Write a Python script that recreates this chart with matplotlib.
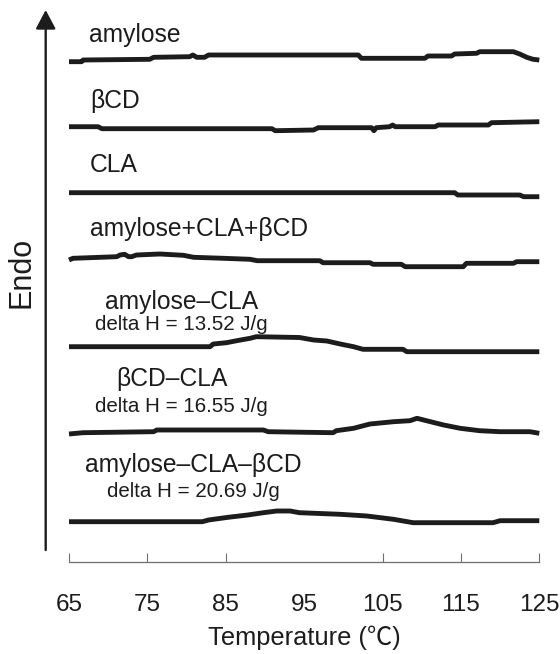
import matplotlib
matplotlib.use("Agg")
import matplotlib.pyplot as plt
from matplotlib.patches import FancyArrowPatch, ArrowStyle

plt.rcParams['font.family'] = ['Liberation Sans', 'Noto Sans CJK SC', 'DejaVu Sans']

# DSC traces, temperature in degC and endo signal (up = endo, arbitrary units)
t_amylose = [65.0, 66.6, 66.8, 75.3, 75.8, 80.4, 80.8, 81.3, 82.3, 82.8, 101.9, 102.3,
             110.4, 110.8, 113.8, 114.2, 117.0, 117.4, 121.7, 122.5, 123.4, 124.2, 125.0]
h_amylose = [0, 0, 1.7, 2.4, 4.4, 5.0, 6.7, 4.4, 4.4, 6.7, 6.7, 3.4,
             3.4, 5.7, 5.7, 7.7, 8.4, 10.0, 10.0, 7.7, 4.4, 2.4, 1.7]

t_bcd = [65.0, 68.7, 69.2, 90.9, 91.3, 96.2, 96.8, 103.6, 103.9, 104.2, 105.9, 106.3,
         106.6, 111.7, 112.1, 118.5, 118.9, 125.0]
h_bcd = [0, 0, -2, -2, -4, -3.3, -1, -1, -4, -1, 0, 1.7,
         0, 0, 1.7, 1.7, 4.0, 5.0]

t_cla = [65.0, 114.2, 114.6, 122.5, 123.0, 125.0]
h_cla = [0, 0, -2.3, -2.3, -4, -4]

t_mix = [65.0, 65.5, 71.1, 71.5, 72.1, 72.6, 73.0, 73.6, 76.6, 79.6, 80.9, 84.7, 88.1,
         89.0, 97.0, 97.4, 103.4, 103.8, 107.4, 107.9, 115.3, 115.7, 121.7, 122.1, 125.0]
h_mix = [0, 1.7, 3.3, 5.0, 5.7, 3.3, 3.3, 5.0, 6.0, 4.7, 2.7, 1.7, 0.7,
         -0.7, -0.7, -2.7, -2.7, -4.3, -4.3, -6.7, -6.7, -3.3, -3.3, -1.7, -1.7]

t_am_cla = [65.0, 83.0, 83.4, 85.1, 86.4, 88.1, 88.9, 94.4, 96.2, 97.9, 99.6, 101.3,
            102.5, 107.6, 108.1, 125.0]
h_am_cla = [0, 0, 2.7, 4.0, 6.0, 8.4, 10.0, 9.2, 6.7, 5.7, 2.7, 0,
            -2.6, -2.6, -5.0, -5.0]

t_bcd_cla = [65.0, 66.8, 75.8, 76.2, 89.8, 90.4, 94.4, 98.7, 99.1, 101.3, 103.4, 106.4,
             108.5, 109.4, 110.6, 112.8, 114.9, 117.4, 120.0, 123.8, 125.0]
h_bcd_cla = [0, 1.3, 2.3, 4.0, 4.0, 2.3, 1.8, 1.3, 3.3, 5.7, 10.0, 12.3,
             13.3, 15.7, 13.3, 9.0, 5.7, 3.3, 2.3, 2.3, 0.7]

t_am_cla_bcd = [65.0, 82.0, 82.8, 85.3, 87.8, 89.8, 91.5, 93.2, 94.4, 99.6, 103.0, 106.4,
                108.9, 119.1, 120.0, 125.0]
h_am_cla_bcd = [0, 0, 1.7, 4.4, 6.7, 9.0, 10.7, 10.7, 9.0, 7.4, 5.7, 2.4,
                -1.0, -1.0, 1.0, 1.0]

names = ['amylose', 'βCD', 'CLA', 'amylose+CLA+βCD',
         'amylose–CLA', 'βCD–CLA', 'amylose–CLA–βCD']
delta_h = [None, None, None, None, 13.52, 16.55, 20.69]
temps = [t_amylose, t_bcd, t_cla, t_mix, t_am_cla, t_bcd_cla, t_am_cla_bcd]
signals = [h_amylose, h_bcd, h_cla, h_mix, h_am_cla, h_bcd_cla, h_am_cla_bcd]
x_ticks = [65, 75, 85, 95, 105, 115, 125]

# stacking offsets of the traces and label anchors (x in degC, baseline)
offsets = [500.3, 435.3, 369.3, 302, 215.3, 128, 40.3]
name_pos = [(67.55, 520, 'left'), (67.7, 454, 'left'), (67.7, 390.5, 'left'),
            (67.7, 326, 'left'), (79.4, 253, 'center'), (78.1, 176, 'center'),
            (80.8, 90.3, 'center')]
dh_pos = [None, None, None, None, (79.35, 232), (79.3, 150.3), (80.9, 65.3)]

ink = '#1c1c1c'
fig = plt.figure(figsize=(5.6, 6.54), dpi=100)
ax = fig.add_axes([69 / 560, 92 / 654, 470.3 / 560, 562 / 654])
ax.set_xlim(65, 125)
ax.set_ylim(0, 562)
ax.patch.set_alpha(0)

for t, h, off in zip(temps, signals, offsets):
    ax.plot(t, [v + off for v in h], color=ink, lw=3.5, solid_joinstyle='round',
            solid_capstyle='butt', clip_on=False)

for i, name in enumerate(names):
    x, y, ha = name_pos[i]
    ax.text(x, y, name, ha=ha, va='baseline', fontsize=17.7, color=ink)
    if delta_h[i] is not None:
        dx, dy = dh_pos[i]
        ax.text(dx, dy, f'delta H = {delta_h[i]:.2f} J/g', ha='center', va='baseline',
                fontsize=14.8, color=ink)

for s in ['left', 'top', 'right']:
    ax.spines[s].set_visible(False)
ax.spines['bottom'].set_color('#6e6e6e')
ax.spines['bottom'].set_linewidth(0.9)
ax.set_yticks([])
ax.set_xticks(x_ticks)
ax.tick_params(axis='x', direction='in', length=6.5, width=0.8, color='#6e6e6e',
               labelsize=17.5, labelcolor=ink, pad=23)
for tk, loc in zip(ax.xaxis.get_major_ticks(), x_ticks):
    if loc == 95:
        tk.tick1line.set_visible(False)
ax.set_xlabel('Temperature (℃)', fontsize=18.3, color=ink, labelpad=7)

# Endo arrow on the left
arrow = FancyArrowPatch((45.7 / 560, 1 - 550 / 654), (45.7 / 560, 1 - 10 / 654),
                        transform=fig.transFigure,
                        arrowstyle=ArrowStyle('-|>', head_length=11.5, head_width=6.1),
                        mutation_scale=1, lw=1.7, color=ink, shrinkA=0, shrinkB=0)
fig.add_artist(arrow)
fig.text(22 / 560, 1 - 272 / 654, 'Endo', rotation=90, ha='center', va='center',
         fontsize=22, color=ink)

fig.savefig('out.png', dpi=100)
